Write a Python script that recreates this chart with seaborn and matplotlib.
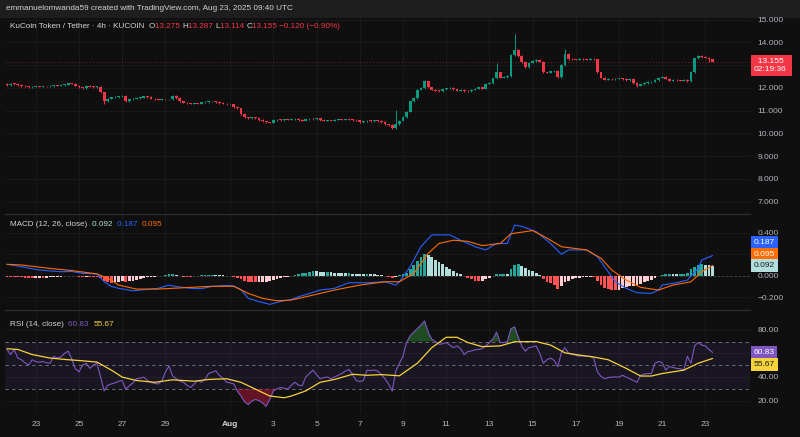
import numpy as np
import pandas as pd
import seaborn as sns
import matplotlib
matplotlib.use('Agg')
import matplotlib.pyplot as plt
import matplotlib.dates as mdates
from matplotlib.patches import Rectangle

# ---- price data (4h candles, KCS/USDT) ----
first_open = 12.19
closes = [
    12.12, 12.18, 12.17, 12.12, 12.08, 12.06, 12.03, 12.05, 12.06, 12.05,
    12.07, 12.06, 12.08, 12.11, 12.10, 12.13, 12.14, 12.20, 12.18, 12.10,
    12.02, 11.98, 12.10, 12.05, 12.04, 12.05, 11.80, 11.40, 11.52, 11.58,
    11.60, 11.62, 11.66, 11.42, 11.50, 11.52, 11.55, 11.57, 11.62, 11.60,
    11.52, 11.50, 11.48, 11.50, 11.49, 11.50, 11.65, 11.55, 11.40, 11.35,
    11.32, 11.30, 11.31, 11.30, 11.36, 11.38, 11.40, 11.41, 11.38, 11.33,
    11.30, 11.28, 11.28, 11.15, 11.10, 10.85, 10.70, 10.68, 10.70, 10.67,
    10.58, 10.52, 10.48, 10.47, 10.58, 10.60, 10.59, 10.61, 10.60, 10.62,
    10.65, 10.58, 10.55, 10.62, 10.64, 10.62, 10.66, 10.58, 10.55, 10.56,
    10.55, 10.60, 10.61, 10.60, 10.62, 10.60, 10.59, 10.57, 10.50, 10.52,
    10.56, 10.54, 10.55, 10.54, 10.50, 10.40, 10.36, 10.24, 10.40, 10.55,
    10.72, 10.95, 11.40, 11.55, 11.92, 12.00, 12.28, 12.02, 11.92, 11.88,
    11.86, 11.94, 11.98, 12.00, 11.93, 11.88, 11.92, 11.86, 11.84, 11.92,
    11.97, 12.02, 11.97, 12.18, 12.22, 12.42, 12.68, 12.45, 12.48, 12.52,
    13.45, 13.68, 13.40, 13.14, 12.92, 13.10, 13.18, 13.22, 13.15, 12.68,
    12.66, 12.72, 12.76, 12.48, 13.00, 13.50, 13.27, 13.25, 13.24, 13.26,
    13.25, 13.24, 13.26, 13.25, 12.68, 12.45, 12.36, 12.40, 12.38, 12.40,
    12.42, 12.38, 12.33, 12.38, 12.22, 12.10, 12.15, 12.22, 12.25, 12.27,
    12.35, 12.45, 12.48, 12.40, 12.32, 12.34, 12.33, 12.31, 12.34, 12.28,
    12.70, 13.30, 13.42, 13.35, 13.33, 13.275, 13.155,
]
# notable wicks (candle index -> price)
wick_hi = {27: 11.80, 108: 11.04, 116: 12.36, 136: 13.10, 141: 14.35, 155: 13.69, 196: 13.287}
wick_lo = {27: 11.30, 107: 10.18, 175: 12.05, 195: 13.12, 196: 13.114}

# ---- MACD (12, 26, close) ----
hist = [
    -0.010, -0.010, -0.010, -0.012, -0.015, -0.020, -0.025, -0.025, -0.022, -0.020,
    -0.020, -0.018, -0.015, -0.012, -0.010, -0.008, -0.005, -0.003, -0.002, -0.004,
    -0.010, -0.012, -0.010, -0.013, -0.015, -0.015, -0.020, -0.045, -0.060, -0.065,
    -0.062, -0.058, -0.050, -0.055, -0.050, -0.045, -0.038, -0.030, -0.022, -0.015,
    -0.012, -0.008, -0.004, 0.000, 0.005, 0.015, 0.015, 0.008, -0.002, -0.008,
    -0.010, -0.010, -0.006, -0.002, 0.004, 0.008, 0.010, 0.010, 0.008, 0.005,
    0.003, 0.002, 0.000, -0.010, -0.018, -0.030, -0.045, -0.055, -0.060, -0.062,
    -0.060, -0.058, -0.055, -0.050, -0.040, -0.030, -0.022, -0.015, -0.008, 0.002,
    0.010, 0.015, 0.022, 0.030, 0.038, 0.043, 0.042, 0.038, 0.035, 0.035,
    0.033, 0.030, 0.028, 0.027, 0.025, 0.025, 0.020, 0.018, 0.015, 0.012,
    0.014, 0.013, 0.012, 0.010, 0.005, -0.005, -0.012, -0.018, -0.012, 0.005,
    0.015, 0.030, 0.060, 0.100, 0.140, 0.175, 0.200, 0.190, 0.170, 0.150,
    0.125, 0.105, 0.085, 0.065, 0.045, 0.030, 0.015, -0.005, -0.020, -0.035,
    -0.045, -0.048, -0.045, -0.035, -0.020, -0.005, 0.015, 0.020, 0.020, 0.018,
    0.060, 0.100, 0.110, 0.095, 0.075, 0.055, 0.040, 0.025, 0.008, -0.030,
    -0.055, -0.070, -0.090, -0.120, -0.100, -0.060, -0.045, -0.035, -0.025, -0.018,
    -0.015, -0.012, -0.010, -0.010, -0.050, -0.085, -0.110, -0.120, -0.128, -0.130,
    -0.128, -0.115, -0.108, -0.100, -0.095, -0.090, -0.075, -0.062, -0.050, -0.038,
    -0.020, -0.005, 0.010, 0.018, 0.020, 0.018, 0.015, 0.015, 0.020, 0.030,
    0.060, 0.080, 0.100, 0.105, 0.100, 0.098, 0.092,
]
macd_idx = [0, 4, 9, 15, 18, 21, 25, 27, 29, 31, 35, 38, 42, 45, 47, 51, 54, 57, 61, 63,
            65, 67, 70, 73, 76, 79, 81, 84, 87, 91, 95, 100, 105, 108, 109, 112, 115, 118, 123, 126,
            130, 133, 136, 139, 141, 143, 147, 151, 154, 156, 161, 164, 167, 169, 172, 175, 179, 181, 182, 186,
            189, 192, 193, 196]
macd_val = [0.106, 0.084, 0.053, 0.037, 0.040, 0.022, 0.017, -0.056, -0.100, -0.117,
            -0.140, -0.130, -0.117, -0.087, -0.100, -0.117, -0.120, -0.100, -0.090, -0.095,
            -0.130, -0.210, -0.240, -0.266, -0.240, -0.220, -0.195, -0.165, -0.133, -0.117,
            -0.065, -0.065, -0.056, -0.087, -0.056, 0.084, 0.270, 0.380, 0.380, 0.330,
            0.270, 0.240, 0.300, 0.300, 0.470, 0.460, 0.410, 0.300, 0.200, 0.240,
            0.240, 0.177, 0.037, -0.056, -0.117, -0.158, -0.164, -0.133, -0.087, -0.065,
            -0.040, 0.069, 0.146, 0.187]
sig_idx = [0, 4, 12, 18, 25, 29, 31, 36, 42, 50, 57, 63, 67, 71, 75, 79, 85, 91, 98, 105,
           109, 113, 117, 120, 124, 128, 132, 137, 140, 146, 150, 154, 161, 165, 168, 172, 176, 181, 185, 190,
           193, 196]
sig_val = [0.106, 0.100, 0.068, 0.048, 0.017, -0.040, -0.087, -0.124, -0.124, -0.110,
           -0.098, -0.098, -0.164, -0.210, -0.233, -0.226, -0.180, -0.133, -0.087, -0.056,
           -0.056, 0.022, 0.208, 0.300, 0.330, 0.320, 0.280, 0.300, 0.390, 0.420,
           0.350, 0.270, 0.240, 0.163, 0.053, -0.040, -0.108, -0.133, -0.087, -0.056,
           0.037, 0.095]

# ---- RSI (14, close) ----
rsi = [
    63.3, 59.0, 63.3, 56.0, 54.6, 52.0, 50.2, 54.6, 53.0, 52.5,
    53.1, 52.0, 51.6, 57.5, 56.0, 57.0, 60.0, 61.9, 55.0, 47.0,
    44.3, 50.0, 51.6, 47.3, 50.0, 51.6, 39.9, 28.2, 33.0, 34.1,
    35.0, 36.4, 37.0, 29.7, 32.6, 35.0, 38.5, 39.0, 39.9, 37.0,
    35.5, 34.5, 34.1, 36.5, 44.0, 49.3, 41.0, 38.5, 36.5, 35.5,
    33.0, 31.1, 34.0, 37.0, 35.5, 38.0, 42.9, 44.0, 45.2, 41.4,
    39.0, 35.5, 35.0, 34.1, 28.0, 23.9, 19.0, 16.6, 19.5, 21.0,
    20.0, 18.0, 15.1, 21.0, 28.2, 30.0, 31.1, 30.5, 29.7, 33.0,
    35.5, 33.0, 32.6, 40.0, 42.9, 45.8, 42.0, 38.5, 39.5, 39.9,
    38.5, 40.0, 41.4, 43.0, 45.0, 46.4, 42.0, 37.0, 36.0, 37.0,
    45.8, 45.5, 45.8, 45.0, 42.0, 38.5, 34.0, 28.2, 45.0, 51.6,
    57.5, 69.2, 75.0, 78.0, 80.9, 84.0, 87.4, 78.0, 72.0, 70.0,
    67.7, 68.0, 69.2, 67.0, 64.8, 66.3, 64.0, 59.0, 61.5, 62.0,
    63.0, 63.3, 64.0, 66.3, 69.0, 72.2, 78.0, 69.2, 69.2, 70.0,
    80.9, 82.4, 74.0, 66.0, 61.9, 64.8, 65.5, 66.3, 60.0, 51.6,
    54.6, 56.0, 54.0, 48.8, 60.4, 64.8, 60.0, 59.0, 58.5, 57.5,
    58.0, 57.5, 57.5, 56.0, 44.3, 40.5, 38.5, 39.5, 39.9, 40.0,
    39.9, 41.4, 40.0, 38.5, 37.0, 35.5, 41.4, 42.5, 42.9, 42.9,
    51.6, 53.1, 52.0, 45.8, 48.8, 48.0, 47.3, 47.0, 45.8, 57.5,
    51.6, 66.3, 69.2, 67.0, 66.3, 63.3, 60.83,
]
rsi_ma_idx = [0, 3, 7, 12, 17, 21, 25, 29, 32, 36, 41, 46, 52, 56, 61, 65, 69, 73, 77, 79,
              83, 87, 91, 96, 100, 104, 109, 114, 118, 122, 125, 128, 132, 137, 141, 147, 151, 155, 160, 163,
              167, 172, 176, 179, 182, 188, 192, 196]
rsi_ma_val = [63.9, 63.3, 59.0, 56.0, 54.6, 53.7, 52.6, 45.8, 39.9, 37.0,
              35.5, 37.6, 36.4, 37.9, 38.5, 35.5, 29.7, 23.9, 22.4, 23.9,
              28.2, 35.5, 37.9, 42.3, 41.4, 42.0, 41.0, 51.6, 64.8, 73.6,
              73.6, 69.2, 65.7, 66.3, 69.8, 70.0, 67.0, 60.4, 58.1, 56.9,
              54.6, 47.3, 40.8, 40.8, 42.9, 45.8, 51.6, 55.67]

tick_dates = ['2025-07-23', '2025-07-25', '2025-07-27', '2025-07-29', '2025-08-01', '2025-08-03',
              '2025-08-05', '2025-08-07', '2025-08-09', '2025-08-11', '2025-08-13', '2025-08-15',
              '2025-08-17', '2025-08-19', '2025-08-21', '2025-08-23']
tick_labels = ['23', '25', '27', '29', 'Aug', '3', '5', '7', '9', '11', '13', '15', '17', '19', '21', '23']

# ---- colours ----
BG = '#0f0f0f'
GRID = '#1b1b1b'
TXT = '#b2b5be'
UP = '#089981'
DOWN = '#f23645'

sns.set_theme(style='dark', rc={'axes.facecolor': BG, 'figure.facecolor': BG})
plt.rcParams['font.family'] = ['Liberation Sans', 'DejaVu Sans']

times = pd.date_range('2025-07-21 16:00', periods=len(closes), freq='4h')
t = mdates.date2num(times)
step = 4 / 24

fig = plt.figure(figsize=(8, 4.37), dpi=100)


def fy(py):
    return 1 - py / 437


L, R = 5 / 800, 750 / 800
ax_p = fig.add_axes([L, fy(212), R - L, fy(18) - fy(212)])
ax_m = fig.add_axes([L, fy(308), R - L, fy(214) - fy(308)], sharex=ax_p)
ax_r = fig.add_axes([L, fy(413), R - L, fy(310) - fy(413)], sharex=ax_p)

# header band
fig.patches.append(Rectangle((0, fy(17)), 1, 17 / 437, transform=fig.transFigure,
                             color='#1e1e1e', zorder=-1))
fig.text(6 / 800, fy(8.5), 'emmanuelomwanda59 created with TradingView.com, Aug 23, 2025 09:40 UTC',
         color='#d1d4dc', fontsize=5.9, va='center')

# ---- candles ----
c = np.array(closes)
o = np.array([first_open] + closes[:-1])
hi = np.maximum(o, c) + 0.03
lo = np.minimum(o, c) - 0.03
for k, v in wick_hi.items():
    hi[k] = v
for k, v in wick_lo.items():
    lo[k] = v
cols = np.where(c >= o, UP, DOWN)
ax_p.vlines(t, lo, hi, colors=cols, lw=0.7, zorder=3)
body = np.maximum(np.abs(c - o), 0.025)
ax_p.bar(t, body, bottom=np.minimum(o, c), width=step * 0.75, color=cols, lw=0, zorder=4)
ax_p.axhline(c[-1], color=DOWN, ls=(0, (1, 2.5)), lw=0.6, alpha=0.6, zorder=2)
ax_p.set_ylim(6.54, 15.07)
ax_p.set_yticks(range(7, 16))
ax_p.set_yticklabels(['7.000', '8.000', '9.000', '10.000', '11.000', '12.000', '', '14.000', '15.000'])

# ---- MACD ----
hcols = []
for i, h in enumerate(hist):
    prev = hist[i - 1] if i > 0 else h
    if h >= 0:
        hcols.append('#26a69a' if h >= prev else '#b2dfdb')
    else:
        hcols.append('#ffcdd2' if h > prev else '#ff5252')
ax_m.bar(t, hist, width=step * 0.8, color=hcols, lw=0, zorder=3)
ax_m.axhline(0, color='#787b86', ls=(0, (3, 3)), lw=0.5, alpha=0.6, zorder=2)
sns.lineplot(x=t[macd_idx], y=macd_val, ax=ax_m, color='#2962ff', lw=0.8, zorder=4)
sns.lineplot(x=t[sig_idx], y=sig_val, ax=ax_m, color='#ff6d00', lw=0.8, zorder=4)
ax_m.set_ylim(-0.30, 0.574)
ax_m.set_yticks([-0.2, 0, 0.2, 0.4])
ax_m.set_yticklabels(['\u22120.200', '0.000', '', '0.400'])

# ---- RSI ----
r = np.array(rsi)
ax_r.axhspan(30, 70, color='#7e57c2', alpha=0.1, lw=0, zorder=1)
for lvl in (70, 50, 30):
    ax_r.axhline(lvl, color='#787b86', ls=(0, (4, 4)), lw=0.6, zorder=2)
ax_r.fill_between(t, 70, r, where=r > 70, interpolate=True, color='#2e7d32', alpha=0.55, lw=0, zorder=2)
ax_r.fill_between(t, 30, r, where=r < 30, interpolate=True, color='#b71c3c', alpha=0.5, lw=0, zorder=2)
sns.lineplot(x=t, y=rsi, ax=ax_r, color='#7e57c2', lw=0.8, zorder=4)
sns.lineplot(x=t[rsi_ma_idx], y=rsi_ma_val, ax=ax_r, color='#f5d33a', lw=0.9, zorder=4)
ax_r.set_ylim(9.5, 96.7)
ax_r.set_yticks([20, 40, 60, 80])
ax_r.set_yticklabels(['20.00', '40.00', '', '80.00'])

# ---- shared axis styling ----
xt = mdates.date2num(pd.to_datetime(tick_dates))
for ax in (ax_p, ax_m, ax_r):
    ax.set_facecolor(BG)
    ax.set_xlim(t[0] - 0.55 * step, t[0] + 206.4 * step)
    ax.yaxis.tick_right()
    ax.tick_params(axis='y', length=0, pad=5.5, labelsize=6, labelcolor=TXT)
    ax.tick_params(axis='x', length=0)
    ax.set_xticks(xt)
    ax.grid(True, color=GRID, lw=0.6)
    ax.set_xlabel('')
    ax.set_ylabel('')
    for s in ax.spines.values():
        s.set_visible(False)
for ax in (ax_m, ax_r):
    ax.spines['top'].set_visible(True)
    ax.spines['top'].set_color('#2a2a2a')
    ax.spines['top'].set_linewidth(1.0)
ax_p.tick_params(axis='x', labelbottom=False)
ax_m.tick_params(axis='x', labelbottom=False)
ax_r.set_xticklabels(tick_labels)
ax_r.tick_params(axis='x', pad=6, labelsize=6, labelcolor=TXT)
for lab in ax_r.get_xticklabels():
    if lab.get_text() == 'Aug':
        lab.set_fontweight('bold')
        lab.set_color('#d1d4dc')

# ---- pane legends ----
renderer = fig.canvas.get_renderer()


def legend_line(x, y, parts, size=5.9):
    for s, col in parts:
        txt = fig.text(x, y, s, color=col, fontsize=size, va='center')
        x += txt.get_window_extent(renderer=renderer).width / fig.bbox.width


legend_line(10 / 800, fy(27), [('KuCoin Token / Tether \u00b7 4h \u00b7 KUCOIN  ', '#d1d4dc'),
                               ('O', '#d1d4dc'), ('13.275 ', DOWN), ('H', '#d1d4dc'), ('13.287 ', DOWN),
                               ('L', '#d1d4dc'), ('13.114 ', DOWN), ('C', '#d1d4dc'), ('13.155 ', DOWN),
                               ('\u22120.120 (\u22120.90%)', DOWN)])
legend_line(10 / 800, fy(224), [('MACD (12, 26, close)  ', '#d1d4dc'), ('0.092  ', '#b2dfdb'),
                                ('0.187  ', '#2962ff'), ('0.095', '#ff6d00')])
legend_line(10 / 800, fy(324), [('RSI (14, close)  ', '#d1d4dc'), ('60.83  ', '#7e57c2'),
                                ('55.67', '#f5d33a')])


# ---- right-hand value tags ----
def tag(ax, y, s, fc, tc, dy=0):
    ax.annotate(s, xy=(1, y), xycoords=('axes fraction', 'data'), xytext=(2.5, dy),
                textcoords='offset points', ha='left', va='center', fontsize=6, color=tc,
                bbox=dict(boxstyle='square,pad=0.35', fc=fc, ec='none'), annotation_clip=False, zorder=10)


tag(ax_p, c[-1], '  13.155  \n02:19:36', DOWN, 'white', dy=-3.0)
tag(ax_m, 0.187, '0.187', '#2962ff', 'white', dy=9.8)
tag(ax_m, 0.095, '0.095', '#ff6d00', 'white', dy=7.9)
tag(ax_m, 0.092, '0.092', '#b2dfdb', '#131722', dy=0)
tag(ax_r, 60.83, '60.83', '#7e57c2', 'white', dy=0)
tag(ax_r, 55.67, '55.67', '#f5d33a', '#131722', dy=-4.3)

fig.savefig('out.png', dpi=100, facecolor=fig.get_facecolor())
